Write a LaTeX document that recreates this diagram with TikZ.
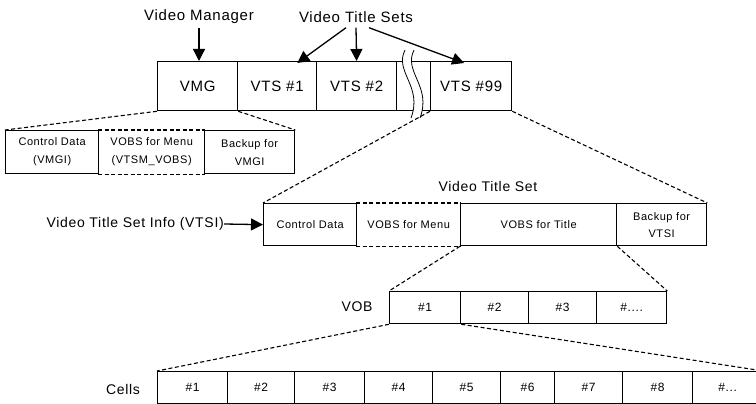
\documentclass[tikz,border=0pt]{standalone}
\usepackage{fontspec}
\setmainfont{Liberation Sans}[LetterSpace=5]
\usetikzlibrary{arrows.meta,calc}

\begin{document}
\begin{tikzpicture}[x=1pt,y=-1pt,
  box/.style={draw, line width=1.3pt, rectangle, anchor=north west, inner sep=0pt,
              font=\fontsize{15}{18}\selectfont},
  sub/.style={box, align=center, font=\fontsize{11}{18}\selectfont},
  subtight/.style={box, align=center, font=\fontsize{11}{17}\selectfont},
  num/.style={box, font=\fontsize{12}{14}\selectfont},
  zoomline/.style={line width=1.1pt, dash pattern=on 4pt off 2.5pt},
  callout/.style={line width=1.3pt, -{Triangle[width=12pt,length=12pt]}},
  lbl/.style={font=\fontsize{15}{18}\selectfont, inner sep=0pt},
  small/.style={font=\fontsize{14}{16}\selectfont, inner sep=0pt},
]
\useasboundingbox (0,0) rectangle (756,404);
\clip (0,0) rectangle (756,404);

% ---------- top level: VMG and the title sets ----------
\node[box, minimum width=80pt, minimum height=49pt] (vmg)  at (157,61) {VMG};
\node[box, minimum width=79pt, minimum height=49pt] (vts1) at (237,61) {VTS \#1};
\node[box, minimum width=80pt, minimum height=49pt] (vts2) at (316,61) {VTS \#2};
\node[box, minimum width=34pt, minimum height=49pt] (gap)  at (396,61) {};
\node[box, minimum width=81pt, minimum height=49pt] (vts99) at (430,61) {VTS \#99};

% break marks across the row
\fill[white] (405,50) .. controls (394,72) and (423,86) .. (411,118)
          -- (420,118) .. controls (432,86) and (403,72) .. (414,50) -- cycle;
\draw[line width=0.8pt] (405,50) .. controls (394,72) and (423,86) .. (411,118);
\draw[line width=0.8pt] (414,50) .. controls (403,72) and (432,86) .. (420,118);

\node[lbl] (vmlbl)  at (199,17) {Video Manager};
\node[lbl] (vtslbl) at (356,17) {Video Title Sets};

\draw[callout] (vmlbl.south) ++(0,4) -- (vmlbl.south |- vmg.north);
\draw[callout] ($(vtslbl.south)+(-10,5)$) -- ([xshift=-20pt,yshift=-2pt]vts1.north east);
\draw[callout] ($(vtslbl.south)+(0,5)$) -- (vts2.north);
\draw[callout] ($(vtslbl.south)+(13,5)$) -- ([xshift=-7pt,yshift=-2pt]vts99.north);

% ---------- VMG contents ----------
\node[sub, minimum width=93pt, minimum height=43pt] (cd1) at (5,130) {Control Data\\(VMGI)};
\node[sub, draw=none, minimum width=106pt, minimum height=43pt] (menu1) at (98,130) {VOBS for Menu\\(VTSM\_VOBS)};
\node[sub, minimum width=90pt, minimum height=43pt] (bk1) at (204,130) {Backup for\\VMGI};
\draw[zoomline] (menu1.north west) -- (menu1.north east);
\draw[zoomline] (menu1.south west) -- (menu1.south east);

\draw[zoomline] (vmg.south west) -- (cd1.north west);
\draw[zoomline] (vmg.south east) -- (bk1.north east);

% ---------- one title set ----------
\node[small] (vtstitle) at (488,186) {Video Title Set};
\node[sub, minimum width=93pt, minimum height=42pt] (cd2) at (263,203) {Control Data};
\node[sub, draw=none, minimum width=104pt, minimum height=42pt] (menu2) at (356,203) {VOBS for Menu};
\node[sub, minimum width=156pt, minimum height=42pt] (title2) at (460,203) {VOBS for Title};
\node[subtight, minimum width=90pt, minimum height=42pt] (bk2) at (616,203) {Backup for\\VTSI};
\draw[zoomline] (menu2.north west) -- (menu2.north east);
\draw[zoomline] (menu2.south west) -- (menu2.south east);

\draw[zoomline] (vts99.south west) -- (cd2.north west);
\draw[zoomline] (vts99.south east) -- (bk2.north east);

\node[small, anchor=east] (vtsi) at (224,224) {Video Title Set Info (VTSI)};
\draw[callout] (vtsi.east) -- (cd2.west);

% ---------- VOBs ----------
\node[small] (voblbl) at (357,307) {VOB};
\node[num, minimum width=71pt, minimum height=32pt] (v1) at (389,291) {\#1};
\node[num, minimum width=68pt, minimum height=32pt] (v2) at (460,291) {\#2};
\node[num, minimum width=68pt, minimum height=32pt] (v3) at (528,291) {\#3};
\node[num, minimum width=70pt, minimum height=32pt] (v4) at (596,291) {\#....};

\draw[zoomline] (title2.south west) -- (v1.north west);
\draw[zoomline] (title2.south east) -- (v4.north east);

% ---------- cells ----------
\node[small] (celllbl) at (123,389) {Cells};
\foreach \x/\w/\t [count=\i] in {157/70/1, 227/67/2, 294/70/3, 364/68/4,
    432/68/5, 500/54/6, 554/68/7, 622/70/8}
  \node[num, minimum width=\w pt, minimum height=32pt] (c\i) at (\x,371) {\#\t};
\node[num, minimum width=70pt, minimum height=32pt] (c9) at (692,371) {\#...};

\draw[zoomline] (v1.south west) -- (c1.north west);
\draw[zoomline] (v1.south east) -- (c9.north east);
\end{tikzpicture}
\end{document}
